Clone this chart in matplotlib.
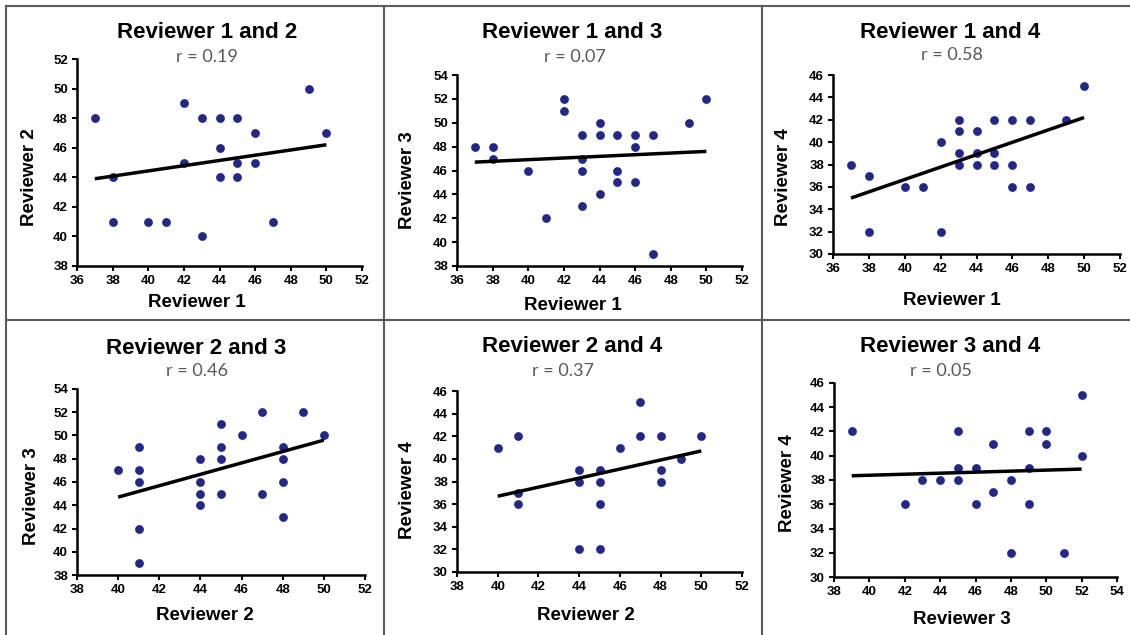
import matplotlib
matplotlib.use("Agg")
import matplotlib.pyplot as plt
from matplotlib.lines import Line2D
import numpy as np

# ---------------- data ----------------
titles = ["Reviewer 1 and 2", "Reviewer 1 and 3", "Reviewer 1 and 4",
          "Reviewer 2 and 3", "Reviewer 2 and 4", "Reviewer 3 and 4"]
r_values = ["r = 0.19", "r = 0.07", "r = 0.58", "r = 0.46", "r = 0.37", "r = 0.05"]
x_labels = ["Reviewer 1", "Reviewer 1", "Reviewer 1", "Reviewer 2", "Reviewer 2", "Reviewer 3"]
y_labels = ["Reviewer 2", "Reviewer 3", "Reviewer 4", "Reviewer 3", "Reviewer 4", "Reviewer 4"]

x_ranges = [(36, 52), (36, 52), (36, 52), (38, 52), (38, 52), (38, 54)]
y_ranges = [(38, 52), (38, 54), (30, 46), (38, 54), (30, 46), (30, 46)]

p1_x = [37, 38, 38, 40, 41, 42, 42, 43, 43, 44, 44, 44, 45, 45, 45, 46, 46, 47, 49, 50]
p1_y = [48, 44, 41, 41, 41, 49, 45, 48, 40, 48, 46, 44, 48, 45, 44, 47, 45, 41, 50, 47]

p2_x = [37, 38, 38, 40, 41, 42, 42, 43, 43, 43, 43, 44, 44, 44, 45, 45, 45, 46, 46, 46, 47, 47, 49, 50]
p2_y = [48, 48, 47, 46, 42, 52, 51, 49, 47, 46, 43, 50, 49, 44, 49, 46, 45, 49, 48, 45, 49, 39, 50, 52]

p3_x = [37, 38, 38, 40, 41, 42, 42, 43, 43, 43, 43, 44, 44, 44, 45, 45, 45, 46, 46, 46, 47, 47, 49, 50]
p3_y = [38, 37, 32, 36, 36, 40, 32, 42, 41, 39, 38, 41, 39, 38, 42, 39, 38, 42, 38, 36, 42, 36, 42, 45]

p4_x = [40, 41, 41, 41, 41, 41, 44, 44, 44, 44, 45, 45, 45, 45, 46, 47, 47, 48, 48, 48, 48, 49, 50]
p4_y = [47, 49, 47, 46, 42, 39, 48, 46, 45, 44, 51, 49, 48, 45, 50, 52, 45, 49, 48, 46, 43, 52, 50]

p5_x = [40, 41, 41, 41, 44, 44, 44, 45, 45, 45, 45, 46, 47, 47, 48, 48, 48, 49, 50]
p5_y = [41, 42, 37, 36, 39, 38, 32, 39, 38, 36, 32, 41, 45, 42, 42, 39, 38, 40, 42]

p6_x = [39, 42, 43, 44, 45, 45, 45, 46, 46, 47, 47, 48, 48, 49, 49, 49, 50, 50, 51, 52, 52]
p6_y = [42, 36, 38, 38, 42, 39, 38, 39, 36, 41, 37, 38, 32, 42, 39, 36, 42, 41, 32, 45, 40]

xs = [p1_x, p2_x, p3_x, p4_x, p5_x, p6_x]
ys = [p1_y, p2_y, p3_y, p4_y, p5_y, p6_y]

# trend line values at the smallest and largest x
trend_start = [43.9, 46.7, 35.0, 44.7, 36.7, 38.35]
trend_end = [46.2, 47.6, 42.2, 49.6, 40.7, 38.9]

# ---------------- layout (pixels) ----------------
W, H = 1130, 635
axes_px = [(77, 59, 362, 266), (457, 75, 742, 266), (833, 75, 1120, 254),
           (77, 389, 365, 575), (457, 391, 742, 572), (834, 383, 1117, 577)]
title_px = [(207, 33), (572, 33), (950, 32), (196, 348), (572, 347), (950, 346)]
r_px = [(207, 57), (575, 57), (952, 55), (197, 371), (563, 371), (941, 371)]
xl_px = [(197, 303), (573, 305), (952, 300), (205, 616), (586, 616), (962, 620)]
yl_px = [(30, 177), (408, 180), (783, 177), (32, 496), (407, 490), (787, 483)]

dot_color = "#23268A"
font = "Liberation Sans"

fig = plt.figure(figsize=(W / 100, H / 100), dpi=100)
fig.patch.set_facecolor("white")

def fx(x):
    return x / W

def fy(y):
    return 1 - y / H

for i in range(6):
    l, t, r, b = axes_px[i]
    ax = fig.add_axes([fx(l), fy(b), (r - l) / W, (b - t) / H])
    ax.scatter(xs[i], ys[i], s=40, color=dot_color, zorder=3, linewidths=0)
    x0, x1 = min(xs[i]), max(xs[i])
    ax.plot([x0, x1], [trend_start[i], trend_end[i]], color="black", lw=2.5,
            solid_capstyle="butt", zorder=4)
    ax.set_xlim(*x_ranges[i])
    ax.set_ylim(*y_ranges[i])
    ax.set_xticks(np.arange(x_ranges[i][0], x_ranges[i][1] + 1, 2))
    ax.set_yticks(np.arange(y_ranges[i][0], y_ranges[i][1] + 1, 2))
    for s in ["top", "right"]:
        ax.spines[s].set_visible(False)
    for s in ["left", "bottom"]:
        ax.spines[s].set_linewidth(1.8)
        ax.spines[s].set_color("black")
    ax.tick_params(direction="out", length=3.5, width=1.5, pad=3,
                   labelsize=9.5, colors="black")
    for lab in ax.get_xticklabels() + ax.get_yticklabels():
        lab.set_fontweight("bold")
        lab.set_fontfamily(font)
    ax.set_facecolor("white")
    ax.patch.set_alpha(0)

    fig.text(fx(title_px[i][0]), fy(title_px[i][1]), titles[i], ha="center", va="center",
             fontsize=16, fontweight="bold", family=font)
    fig.text(fx(r_px[i][0]), fy(r_px[i][1]), r_values[i], ha="center", va="center",
             fontsize=13, color="#595959", family="Lato")
    fig.text(fx(xl_px[i][0]), fy(xl_px[i][1]), x_labels[i], ha="center", va="center",
             fontsize=13.5, fontweight="bold", family=font)
    fig.text(fx(yl_px[i][0]), fy(yl_px[i][1]), y_labels[i], ha="center", va="center",
             fontsize=13.5, fontweight="bold", family=font, rotation=90)

# cell borders
border_color = "#5a5a5a"
lines = [((6, 6), (6, 635)), ((6, 1130), (6, 6)), ((384, 384), (6, 635)),
         ((762, 762), (6, 635)), ((6, 1130), (320, 320))]
for (xa, xb), (ya, yb) in lines:
    fig.add_artist(Line2D([fx(xa), fx(xb)], [fy(ya), fy(yb)], color=border_color,
                          lw=1.5, transform=fig.transFigure))

fig.savefig("out.png", dpi=100)
